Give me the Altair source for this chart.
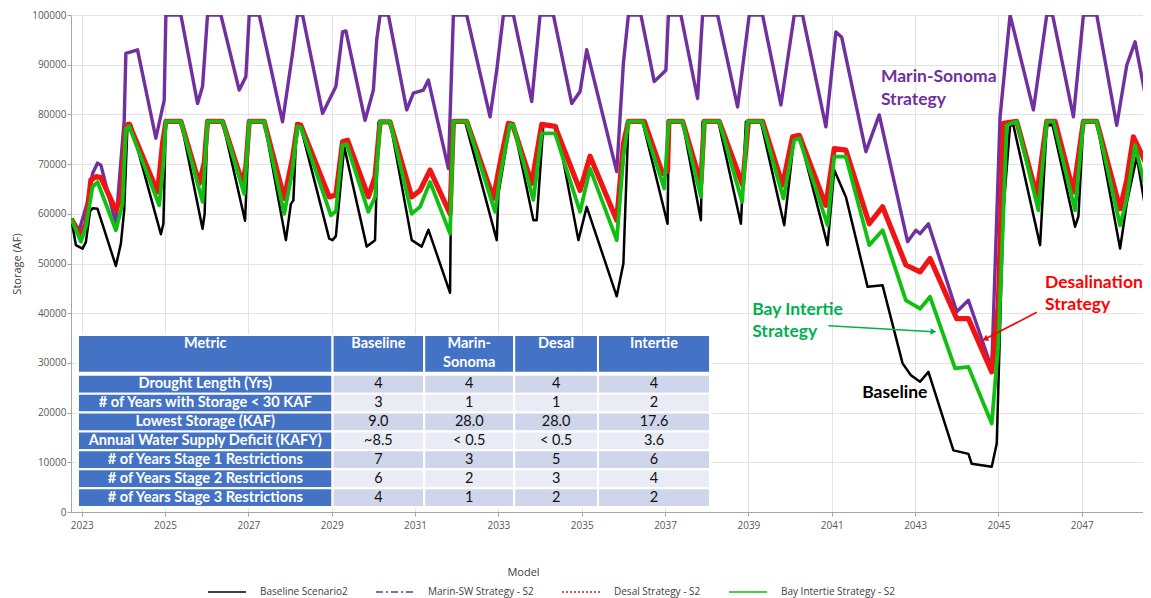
import altair as alt
import pandas as pd

# ---------------- data ----------------
series_names = ["Baseline Scenario2", "Marin-SW Strategy - S2",
                "Desal Strategy - S2", "Bay Intertie Strategy - S2"]
series_colors = ["#000000", "#7030A0", "#F01414", "#10C010"]
series_dash = [[1, 0], [7, 3, 2, 3], [2, 2], [1, 0]]
series_widths = [2.5, 3.4, 5.2, 3.8]

baseline_t = [2022.75, 2022.86, 2023.02, 2023.10, 2023.20, 2023.26, 2023.38, 2023.82, 2023.94, 2024.02,
              2024.10, 2024.18, 2024.90, 2024.96, 2025.02, 2025.38, 2025.90, 2025.95, 2026.02, 2026.38,
              2026.92, 2027.02, 2027.38, 2027.90, 2028.02, 2028.08, 2028.16, 2028.24, 2028.94, 2029.02,
              2029.10, 2029.30, 2029.84, 2030.04, 2030.12, 2030.40, 2030.92, 2031.16, 2031.32, 2031.84,
              2031.88, 2032.20, 2032.96, 2033.00, 2033.28, 2033.36, 2033.84, 2033.92, 2034.08, 2034.40,
              2034.92, 2035.12, 2035.84, 2036.00, 2036.12, 2036.46, 2037.06, 2037.09, 2037.42, 2037.86,
              2037.90, 2038.28, 2038.82, 2038.94, 2039.30, 2039.86, 2040.10, 2040.22, 2040.90, 2041.06,
              2041.34, 2041.86, 2042.22, 2042.70, 2042.90, 2043.12, 2043.32, 2043.92, 2044.08, 2044.28,
              2044.36, 2044.84, 2044.96, 2045.12, 2045.28, 2045.36, 2046.00, 2046.16, 2046.30, 2046.84,
              2046.92, 2047.04, 2047.36, 2047.92, 2048.08, 2048.32, 2048.66]
baseline_v = [59000, 53700, 53000, 54300, 60500, 61100, 61000, 49500, 54000, 60700,
              78200, 78000, 55900, 58000, 78600, 78600, 57000, 60000, 78600, 78600,
              58600, 78600, 78600, 54700, 62000, 62700, 78200, 78000, 55000, 54700,
              55500, 73500, 53400, 54700, 78300, 78500, 54700, 53400, 56800, 44100,
              78600, 78600, 54700, 64000, 78000, 78000, 58700, 58700, 78000, 77600,
              54700, 61400, 43400, 50000, 78500, 78500, 58000, 78500, 78500, 58700,
              78500, 78500, 58000, 78500, 78500, 57700, 75500, 75800, 53700, 68800,
              63400, 45300, 45600, 29900, 27500, 26200, 28200, 12400, 12100, 11700,
              9700, 9100, 13800, 60700, 77800, 77800, 53700, 77800, 77800, 57400,
              59500, 78500, 78500, 53000, 62100, 71500, 54300]

marin_t = [2022.75, 2022.94, 2023.14, 2023.26, 2023.38, 2023.46, 2023.82, 2024.02, 2024.06, 2024.34,
           2024.78, 2024.98, 2025.02, 2025.38, 2025.78, 2025.90, 2026.02, 2026.34, 2026.78, 2026.94,
           2027.02, 2027.26, 2027.82, 2028.06, 2028.18, 2028.30, 2028.78, 2029.10, 2029.26, 2029.34,
           2029.80, 2030.00, 2030.08, 2030.16, 2030.36, 2030.80, 2030.96, 2031.20, 2031.32, 2031.80,
           2031.92, 2032.24, 2032.80, 2032.96, 2033.12, 2033.36, 2033.80, 2034.00, 2034.32, 2034.76,
           2034.96, 2035.12, 2035.84, 2036.00, 2036.12, 2036.42, 2036.74, 2037.02, 2037.08, 2037.38,
           2037.78, 2037.90, 2038.26, 2038.74, 2039.02, 2039.34, 2039.78, 2040.10, 2040.30, 2040.86,
           2041.10, 2041.24, 2041.82, 2042.14, 2042.82, 2043.02, 2043.12, 2043.32, 2044.00, 2044.28,
           2044.84, 2045.04, 2045.28, 2045.84, 2046.16, 2046.30, 2046.80, 2047.04, 2047.36, 2047.84,
           2048.08, 2048.28, 2048.66]
marin_v = [59000, 56700, 62400, 68100, 70200, 69800, 58000, 78800, 92300, 93000,
           75200, 82900, 100000, 100000, 82200, 85600, 100000, 100000, 84900, 87600,
           100000, 100000, 78500, 92300, 100000, 100000, 80200, 85600, 96600, 96800,
           78800, 84900, 95000, 100000, 100000, 80900, 84300, 84900, 86900, 69100,
           100000, 100000, 79500, 88900, 100000, 100000, 82600, 100000, 100000, 82200,
           84600, 93000, 68500, 90300, 100000, 100000, 86600, 88900, 100000, 100000,
           83200, 100000, 100000, 81500, 100000, 100000, 81900, 100000, 100000, 77500,
           96600, 95500, 72500, 79900, 54400, 56700, 56000, 58000, 40300, 42600,
           28900, 79500, 100000, 80900, 100000, 100000, 79500, 100000, 100000, 77800,
           89900, 94600, 78000]

desal_t = [2022.75, 2022.98, 2023.10, 2023.22, 2023.34, 2023.46, 2023.82, 2023.94, 2024.06, 2024.14,
           2024.82, 2024.94, 2025.02, 2025.38, 2025.82, 2025.94, 2026.02, 2026.38, 2026.86, 2026.94,
           2027.02, 2027.38, 2027.86, 2028.06, 2028.18, 2028.26, 2028.94, 2029.10, 2029.26, 2029.38,
           2029.88, 2030.04, 2030.16, 2030.40, 2030.92, 2031.12, 2031.36, 2031.84, 2031.92, 2032.24,
           2032.88, 2033.04, 2033.24, 2033.34, 2033.80, 2034.04, 2034.36, 2034.96, 2035.20, 2035.84,
           2036.00, 2036.12, 2036.50, 2036.94, 2037.06, 2037.09, 2037.42, 2037.86, 2037.94, 2038.30,
           2038.86, 2039.00, 2039.34, 2039.82, 2040.06, 2040.22, 2040.86, 2041.06, 2041.34, 2041.90,
           2042.22, 2042.78, 2043.12, 2043.36, 2044.00, 2044.28, 2044.84, 2045.00, 2045.12, 2045.44,
           2045.92, 2046.16, 2046.36, 2046.80, 2047.04, 2047.36, 2047.92, 2048.08, 2048.24, 2048.66]
desal_v = [59000, 55400, 58000, 66800, 67500, 67300, 60700, 63400, 77600, 78000,
           64400, 74100, 78600, 78600, 66100, 70200, 78600, 78600, 66100, 69500,
           78600, 78600, 63100, 71200, 78000, 77800, 63400, 63800, 74500, 74800,
           63400, 67500, 78500, 78500, 63400, 64700, 68800, 60000, 78600, 78600,
           63100, 70200, 78200, 78000, 66100, 78000, 77600, 64700, 71600, 58700,
           74100, 78600, 78600, 68100, 68600, 78600, 78600, 66100, 78600, 78600,
           65800, 78600, 78600, 65800, 75500, 75800, 61700, 73100, 72800, 58000,
           61400, 49700, 48300, 51000, 38900, 38900, 28200, 41900, 78200, 78600,
           63700, 78600, 78600, 64400, 78600, 78600, 61000, 66800, 75500, 68000]

intertie_t = [2022.75, 2022.98, 2023.10, 2023.26, 2023.38, 2023.82, 2023.98, 2024.06, 2024.14, 2024.86,
              2024.96, 2025.02, 2025.38, 2025.90, 2026.02, 2026.38, 2026.90, 2027.02, 2027.38, 2027.86,
              2028.06, 2028.18, 2028.26, 2028.98, 2029.10, 2029.26, 2029.36, 2029.88, 2030.04, 2030.16,
              2030.40, 2030.92, 2031.12, 2031.36, 2031.84, 2031.92, 2032.24, 2032.92, 2033.04, 2033.28,
              2033.36, 2033.84, 2034.04, 2034.36, 2034.96, 2035.20, 2035.84, 2036.00, 2036.12, 2036.46,
              2036.98, 2037.09, 2037.42, 2037.86, 2037.94, 2038.30, 2038.85, 2038.98, 2039.32, 2039.84,
              2040.10, 2040.22, 2040.90, 2041.06, 2041.34, 2041.90, 2042.22, 2042.78, 2043.12, 2043.36,
              2043.96, 2044.28, 2044.84, 2045.00, 2045.20, 2045.44, 2045.96, 2046.16, 2046.32, 2046.84,
              2047.04, 2047.36, 2047.92, 2048.08, 2048.28, 2048.66]
intertie_v = [59000, 54400, 57400, 65400, 66400, 56700, 62000, 77200, 77600, 61700,
              70000, 78600, 78600, 62400, 78600, 78600, 64000, 78600, 78600, 60000,
              68800, 77600, 77400, 59700, 60500, 73800, 74000, 60400, 63400, 78500,
              78500, 60000, 61400, 66400, 56000, 78600, 78600, 60400, 67500, 78000,
              77800, 62800, 76200, 76200, 60400, 69100, 54700, 71500, 78600, 78600,
              65100, 78600, 78600, 63400, 78600, 78600, 62400, 78600, 78600, 63100,
              74800, 75200, 57700, 71500, 71500, 53700, 56700, 42600, 40900, 43300,
              28900, 29200, 17800, 33900, 77800, 78600, 60700, 78600, 78600, 60700,
              78600, 78600, 57700, 63000, 73800, 60700]

# table content
table_headers = ["Metric", "Baseline", "Marin-", "Desal", "Intertie"]
table_header_line2 = ["", "", "Sonoma", "", ""]
table_metrics = ["Drought Length (Yrs)", "# of Years with Storage < 30 KAF", "Lowest Storage (KAF)",
                 "Annual Water Supply Deficit (KAFY)", "# of Years Stage 1 Restrictions",
                 "# of Years Stage 2 Restrictions", "# of Years Stage 3 Restrictions"]
table_baseline = ["4", "3", "9.0", "~8.5", "7", "6", "4"]
table_marin = ["4", "1", "28.0", "< 0.5", "3", "2", "1"]
table_desal = ["4", "1", "28.0", "< 0.5", "5", "3", "2"]
table_intertie = ["4", "2", "17.6", "3.6", "6", "4", "2"]

# annotation texts
annot_text = ["Marin-Sonoma", "Strategy", "Desalination", "Strategy", "Bay Intertie", "Strategy", "Baseline"]
annot_year = [2042.18, 2042.18, 2046.12, 2046.12, 2039.09, 2039.09, 2041.73]
annot_storage = [87500, 82900, 46100, 41650, 40640, 36280, 24000]
annot_color = ["#7030A0", "#7030A0", "#FF0000", "#FF0000", "#00B050", "#00B050", "#000000"]

arrow_color = ["#00B050", "#FF0000"]
arrow_from_year = [2040.92, 2045.92]
arrow_from_storage = [37480, 40180]
arrow_to_year = [2043.44, 2044.68]
arrow_to_storage = [36280, 34800]
arrow_angle = [93.3, 242.7]

# ---------------- layout constants (data units) ----------------
col_edges = [2022.91, 2029.02, 2031.22, 2033.38, 2035.39, 2038.08]
header_top, header_bottom = 35600, 28000
rows_top, row_h = 27600, 3800
header_line1_y, header_line2_y = 33800, 29980

TABLE_BLUE = "#4472C4"
ROW_DARK = "#CFD5EA"
ROW_LIGHT = "#E9EBF5"

# ---------------- build frames ----------------
rows = []
for name, ts, vs in zip(series_names, [baseline_t, marin_t, desal_t, intertie_t],
                        [baseline_v, marin_v, desal_v, intertie_v]):
    for t, v in zip(ts, vs):
        rows.append({"series": name, "year": t, "storage": v})
df = pd.DataFrame(rows)

x_scale = alt.Scale(domain=[2022.743, 2048.47], nice=False, zero=False)
y_scale = alt.Scale(domain=[0, 100000], nice=False, zero=True)
x_axis = alt.Axis(values=list(range(2023, 2048, 2)), format="d", title="Model",
                  tickSize=4, labelPadding=4, titleX=452, titleY=60,
                  titleBaseline="middle", titleAlign="center", titleAnchor="start")
y_axis = alt.Axis(values=list(range(0, 100001, 10000)), format="d", title="Storage (AF)",
                  tickSize=4, labelPadding=1, titlePadding=9)


def X(field="year"):
    return alt.X(f"{field}:Q", scale=x_scale, axis=x_axis)


def Y(field="storage"):
    return alt.Y(f"{field}:Q", scale=y_scale, axis=y_axis)


layers = []
for name, col, w in zip(series_names, series_colors, series_widths):
    layers.append(
        alt.Chart(df).transform_filter(alt.datum.series == name)
        .mark_line(color=col, strokeWidth=w, clip=True, strokeJoin="round")
        .encode(x=X(), y=Y(), order="year:Q")
    )

# legend-only layer (one point per series draws no line)
legend_df = pd.DataFrame({"series": series_names, "year": [2030.0] * 4, "storage": [50000] * 4})
leg = alt.Legend(orient="none", legendX=136, legendY=557, direction="horizontal", columns=4,
                 title=None, symbolType="stroke", symbolSize=1444, symbolStrokeWidth=1.5,
                 labelFont="Open Sans", labelFontSize=10, labelColor="#404040",
                 columnPadding=25, labelOffset=13)
layers.append(
    alt.Chart(legend_df).mark_line(strokeWidth=1.5).encode(
        x=X(), y=Y(),
        color=alt.Color("series:N", scale=alt.Scale(domain=series_names, range=series_colors), legend=leg),
        strokeDash=alt.StrokeDash("series:N", scale=alt.Scale(domain=series_names, range=series_dash), legend=leg),
    )
)

# table cells
cells = []
for ci in range(5):
    cells.append({"x0": col_edges[ci], "x1": col_edges[ci + 1], "y0": header_bottom, "y1": header_top,
                  "fill": TABLE_BLUE})
for ri in range(7):
    y1 = rows_top - ri * row_h
    y0 = y1 - row_h
    for ci in range(5):
        fill = TABLE_BLUE if ci == 0 else (ROW_DARK if ri % 2 == 0 else ROW_LIGHT)
        cells.append({"x0": col_edges[ci], "x1": col_edges[ci + 1], "y0": y0, "y1": y1, "fill": fill})
cells_df = pd.DataFrame(cells)
layers.append(
    alt.Chart(cells_df).mark_rect(stroke="white", strokeWidth=2).encode(
        x=alt.X("x0:Q", scale=x_scale, axis=x_axis), x2="x1:Q",
        y=alt.Y("y0:Q", scale=y_scale, axis=y_axis), y2="y1:Q",
        fill=alt.Fill("fill:N", scale=None),
    )
)

centers = [(col_edges[i] + col_edges[i + 1]) / 2 for i in range(5)]
head_rows = []
for ci in range(5):
    head_rows.append({"year": centers[ci], "storage": header_line1_y, "text": table_headers[ci]})
    if table_header_line2[ci]:
        head_rows.append({"year": centers[ci], "storage": header_line2_y, "text": table_header_line2[ci]})
layers.append(
    alt.Chart(pd.DataFrame(head_rows)).mark_text(
        font="Lato", fontSize=14.5, fontWeight="bold", color="white", align="center", baseline="middle"
    ).encode(x=X(), y=Y(), text="text:N")
)

metric_rows = []
value_rows = []
for ri in range(7):
    yc = rows_top - (ri + 0.5) * row_h
    metric_rows.append({"year": centers[0], "storage": yc, "text": table_metrics[ri]})
    for ci, vals in enumerate([table_baseline, table_marin, table_desal, table_intertie], start=1):
        value_rows.append({"year": centers[ci], "storage": yc, "text": vals[ri]})
layers.append(
    alt.Chart(pd.DataFrame(metric_rows)).mark_text(
        font="Lato", fontSize=14.6, fontWeight="bold", color="white", align="center", baseline="middle"
    ).encode(x=X(), y=Y(), text="text:N")
)
layers.append(
    alt.Chart(pd.DataFrame(value_rows)).mark_text(
        font="Lato", fontSize=14.5, color="#111111", align="center", baseline="middle"
    ).encode(x=X(), y=Y(), text="text:N")
)

# annotations
annot_df = pd.DataFrame({"year": annot_year, "storage": annot_storage, "text": annot_text, "c": annot_color})
layers.append(
    alt.Chart(annot_df).mark_text(
        font="Lato", fontSize=17.5, fontWeight="bold", align="left", baseline="middle"
    ).encode(x=X(), y=Y(), text="text:N", color=alt.Color("c:N", scale=None))
)

arrow_df = pd.DataFrame({"x0": arrow_from_year, "y0": arrow_from_storage, "year": arrow_to_year,
                         "storage": arrow_to_storage, "c": arrow_color, "a": arrow_angle})
layers.append(
    alt.Chart(arrow_df).mark_rule(strokeWidth=1.6).encode(
        x=alt.X("x0:Q", scale=x_scale, axis=x_axis), x2="year:Q",
        y=alt.Y("y0:Q", scale=y_scale, axis=y_axis), y2="storage:Q",
        color=alt.Color("c:N", scale=None),
    )
)
layers.append(
    alt.Chart(arrow_df).mark_point(shape="triangle-up", filled=True, size=45, opacity=1).encode(
        x=X(), y=Y(), color=alt.Color("c:N", scale=None), angle=alt.Angle("a:Q", scale=None)
    )
)

chart = alt.layer(*layers).properties(
    width=1072, height=497,
    padding={"left": 63, "top": 7, "right": 0, "bottom": 86},
    autosize=alt.AutoSizeParams(type="none"),
).configure_view(
    stroke="#a6a6a6", strokeWidth=1
).configure_axis(
    gridColor="#e3e3e3", domainColor="#a6a6a6", tickColor="#a6a6a6",
    labelFont="Open Sans", labelFontSize=10, labelColor="#595959",
    titleFont="Open Sans", titleFontSize=11, titleColor="#404040", titleFontWeight="normal",
)

chart.save("out.html", embed_options={"renderer": "svg", "actions": False})
